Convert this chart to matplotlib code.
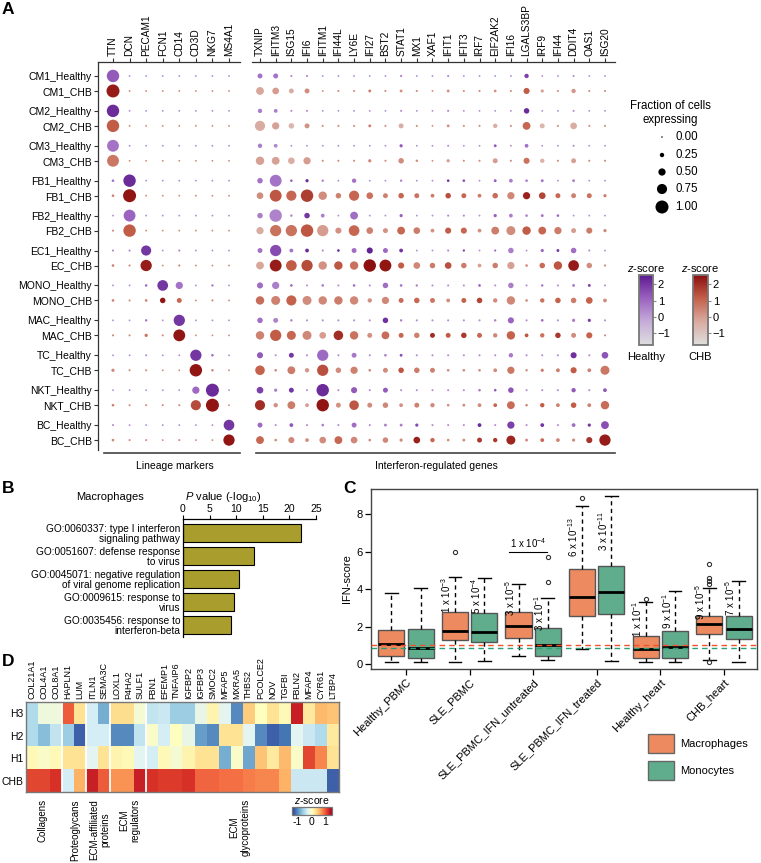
import numpy as np
import matplotlib
matplotlib.use('Agg')
import matplotlib.pyplot as plt
from matplotlib.colors import LinearSegmentedColormap, Normalize
from matplotlib.patches import Rectangle
import matplotlib.colorbar as mcolorbar

plt.rcParams['font.family'] = ['Liberation Sans', 'DejaVu Sans']
plt.rcParams['mathtext.fontset'] = 'custom'
plt.rcParams['mathtext.rm'] = 'Liberation Sans'
plt.rcParams['mathtext.it'] = 'Liberation Sans:italic'
plt.rcParams['axes.linewidth'] = 0.9

# ---------------- Panel A data ----------------
ROWS = ['CM1_Healthy', 'CM1_CHB', 'CM2_Healthy', 'CM2_CHB', 'CM3_Healthy', 'CM3_CHB',
        'FB1_Healthy', 'FB1_CHB', 'FB2_Healthy', 'FB2_CHB', 'EC1_Healthy', 'EC_CHB',
        'MONO_Healthy', 'MONO_CHB', 'MAC_Healthy', 'MAC_CHB', 'TC_Healthy', 'TC_CHB',
        'NKT_Healthy', 'NKT_CHB', 'BC_Healthy', 'BC_CHB']
LINEAGE = ['TTN', 'DCN', 'PECAM1', 'FCN1', 'CD14', 'CD3D', 'NKG7', 'MS4A1']
IFN_GENES = ['TXNIP', 'IFITM3', 'ISG15', 'IFI6', 'IFITM1', 'IFI44L', 'LY6E', 'IFI27',
             'BST2', 'STAT1', 'MX1', 'XAF1', 'IFIT1', 'IFIT3', 'IRF7', 'EIF2AK2', 'IFI16',
             'LGALS3BP', 'IRF9', 'IFI44', 'DDIT4', 'OAS1', 'ISG20']

LIN_FRAC = [
    [.95, .03, .03, .03, .03, .03, .03, .03],
    [1.0, .03, .03, .03, .03, .03, .03, .03],
    [.95, .03, .03, .03, .03, .03, .03, .03],
    [.95, .03, .03, .03, .03, .03, .03, .03],
    [.90, .03, .03, .03, .03, .03, .03, .03],
    [.90, .03, .03, .03, .03, .03, .03, .03],
    [.10, .95, .03, .03, .03, .03, .03, .03],
    [.10, 1.0, .03, .03, .03, .03, .03, .03],
    [.03, .90, .03, .03, .03, .03, .03, .03],
    [.05, .95, .03, .03, .03, .03, .03, .03],
    [.05, .05, .75, .03, .05, .03, .03, .03],
    [.10, .05, .85, .03, .05, .03, .03, .03],
    [.03, .03, .10, .80, .50, .03, .08, .03],
    [.10, .05, .10, .35, .30, .03, .05, .03],
    [.03, .03, .08, .03, .85, .03, .03, .03],
    [.05, .05, .15, .05, .90, .03, .03, .03],
    [.03, .03, .05, .03, .03, .85, .10, .03],
    [.15, .05, .05, .03, .03, .95, .08, .03],
    [.03, .03, .03, .03, .03, .50, 1.0, .03],
    [.10, .05, .05, .05, .05, .75, 1.0, .03],
    [.05, .03, .03, .03, .03, .03, .03, .80],
    [.10, .05, .05, .03, .05, .03, .03, .85],
]
LIN_Z = [
    [1.3, .3, .3, .3, .3, .3, .3, .3],
    [2.3, .3, .3, .3, .3, .3, .3, .3],
    [2.2, .3, .3, .3, .3, .3, .3, .3],
    [1.2, .3, .3, .3, .3, .3, .3, .3],
    [.8, .3, .3, .3, .3, .3, .3, .3],
    [.7, .3, .3, .3, .3, .3, .3, .3],
    [.8, 2.2, .3, .3, .3, .3, .3, .3],
    [.5, 2.4, .3, .3, .3, .3, .3, .3],
    [.3, 1.1, .3, .3, .3, .3, .3, .3],
    [.4, 1.2, .3, .3, .3, .3, .3, .3],
    [.5, .5, 2.0, .3, .6, .3, .3, .3],
    [.5, .4, 2.3, .3, .5, .3, .3, .3],
    [.3, .3, .8, 2.0, .8, .3, .6, .3],
    [.5, .3, .5, 2.4, 1.0, .3, .5, .3],
    [.3, .3, .8, .3, 2.0, .3, .3, .3],
    [.4, .3, .8, .3, 2.4, .3, .3, .3],
    [.3, .3, .3, .3, .3, 2.0, .8, .3],
    [.4, .3, .3, .3, .3, 2.4, .6, .3],
    [.3, .3, .3, .3, .3, 1.0, 2.2, .3],
    [.5, .3, .3, .3, .3, 1.5, 2.4, .3],
    [.3, .3, .3, .3, .3, .3, .3, 2.0],
    [.4, .3, .3, .3, .3, .3, .3, 2.4],
]

IFN_FRAC = [
    [.30, .30, .06, .06, .03, .03, .03, .03, .03, .06, .03, .03, .05, .03, .03, .03, .03, .25, .03, .03, .05, .03, .03],
    [.55, .45, .30, .30, .03, .05, .05, .12, .05, .12, .05, .03, .12, .05, .05, .10, .05, .40, .15, .05, .25, .05, .05],
    [.25, .20, .05, .05, .03, .03, .03, .03, .03, .05, .03, .03, .05, .03, .03, .03, .03, .35, .03, .03, .05, .03, .03],
    [.75, .50, .35, .30, .05, .05, .05, .12, .05, .30, .05, .03, .12, .05, .05, .25, .05, .55, .30, .05, .45, .05, .05],
    [.25, .20, .03, .03, .03, .03, .03, .03, .03, .15, .03, .03, .05, .03, .03, .12, .03, .20, .03, .03, .05, .03, .03],
    [.60, .55, .45, .50, .05, .05, .05, .15, .05, .35, .08, .03, .15, .05, .05, .30, .05, .40, .25, .05, .30, .05, .05],
    [.35, .90, .10, .15, .08, .03, .25, .03, .03, .08, .03, .03, .10, .10, .03, .12, .20, .10, .12, .03, .12, .03, .03],
    [.45, .90, .75, .95, .60, .35, .75, .45, .30, .35, .30, .20, .35, .30, .20, .35, .50, .50, .45, .30, .30, .30, .15],
    [.35, .95, .08, .35, .20, .03, .55, .03, .03, .15, .03, .03, .05, .05, .03, .15, .20, .10, .12, .10, .03, .03, .03],
    [.50, .85, .85, .95, .85, .40, .80, .45, .30, .55, .45, .20, .40, .40, .20, .55, .65, .60, .55, .50, .30, .40, .15],
    [.30, .85, .20, .20, .05, .10, .30, .40, .30, .20, .03, .03, .05, .08, .03, .05, .35, .03, .15, .12, .35, .05, .03],
    [.55, .90, .80, .85, .60, .60, .60, .95, .90, .40, .45, .35, .45, .35, .20, .35, .50, .10, .35, .60, .80, .35, .06],
    [.40, .50, .10, .05, .10, .05, .10, .05, .35, .10, .08, .05, .05, .05, .10, .05, .35, .05, .08, .05, .12, .12, .05],
    [.60, .65, .75, .65, .60, .60, .60, .25, .50, .30, .35, .30, .20, .30, .35, .25, .60, .10, .25, .35, .35, .45, .20],
    [.35, .30, .08, .05, .05, .05, .05, .05, .35, .08, .05, .05, .05, .05, .05, .08, .40, .05, .10, .05, .15, .15, .05],
    [.60, .85, .65, .65, .45, .70, .60, .30, .55, .30, .35, .30, .30, .35, .30, .25, .60, .20, .25, .35, .30, .40, .05],
    [.40, .05, .30, .05, .85, .05, .30, .05, .10, .12, .05, .05, .05, .05, .05, .05, .25, .05, .05, .05, .40, .05, .45],
    [.70, .10, .55, .25, .85, .35, .50, .10, .30, .35, .35, .30, .10, .10, .10, .20, .50, .08, .15, .20, .40, .20, .65],
    [.45, .15, .30, .05, .95, .05, .40, .05, .30, .05, .05, .05, .05, .05, .10, .10, .35, .05, .05, .05, .25, .05, .20],
    [.75, .25, .55, .20, .95, .30, .70, .30, .35, .20, .30, .25, .10, .12, .20, .20, .55, .10, .25, .20, .35, .20, .60],
    [.30, .05, .20, .05, .10, .05, .30, .05, .12, .12, .15, .05, .05, .05, .20, .05, .50, .05, .20, .05, .20, .15, .55],
    [.55, .10, .40, .20, .45, .55, .45, .10, .35, .15, .45, .25, .10, .12, .30, .25, .65, .12, .20, .20, .15, .40, .85],
]
IFN_Z = [
    [.8, .8, .3, .3, .3, .3, .3, .3, .3, .5, .3, .3, .5, .3, .3, .3, .3, 1.8, .3, .3, .3, .3, .3],
    [-.2, 0, -.4, .3, .3, .3, .3, .6, .3, .2, .3, .3, .2, .3, .3, .3, .3, 1.2, -.1, .3, .1, .3, .3],
    [.6, .6, .3, .3, .3, .3, .3, .3, .3, .3, .3, .3, .5, .3, .3, .3, .3, 2.2, .3, .3, .3, .3, .3],
    [-.3, -.1, -.6, .2, .3, .3, .3, .6, .3, -.4, .3, .3, .2, .3, .3, -.4, .3, 1.0, -.6, .3, -.3, .3, .3],
    [.6, .4, .3, .3, .3, .3, .3, .3, .3, 1.3, .3, .3, .3, .3, .3, 1.3, .3, .8, .3, .3, .3, .3, .3],
    [-.1, -.1, -.4, 0, .3, .3, .3, .4, .3, .3, .3, .3, 0, .3, .3, 0, .3, .8, -.5, .3, -.1, .3, .3],
    [.8, .8, 1.0, 2.2, .5, .3, .8, .3, .3, .5, .3, .3, 2.0, 1.5, .3, 1.2, .6, .6, .8, .3, .5, .3, .3],
    [.3, 1.3, 1.0, 1.7, .3, .5, 1.0, .8, .5, 1.0, .8, .6, 1.4, 1.0, .6, .9, .4, 2.2, 1.6, 1.0, .5, .8, .6],
    [.6, .5, .5, 2.0, .6, .3, .9, .3, .3, 1.2, .3, .3, .5, .5, .3, 1.2, .6, .5, .8, 1.0, .3, .3, .3],
    [-.3, .8, .8, 1.3, 0, .2, 1.0, .5, .2, 1.0, .6, .2, 1.2, 1.0, .2, .6, .3, 1.2, 1.0, .6, 0, .6, .4],
    [.8, 1.6, .8, 2.2, .5, 2.2, .9, 2.4, 1.0, 2.0, .3, .3, .5, 1.5, .3, 1.2, .6, .3, 1.0, 2.0, .9, .3, .3],
    [-.2, 2.3, 1.2, 1.5, .2, 1.3, .8, 2.5, 2.4, 1.2, .4, .6, 1.4, .6, -.1, .6, -.1, .3, .9, 1.3, 2.3, .3, .3],
    [.9, .6, 1.0, .3, .6, .3, .8, .3, .9, .8, .5, .3, .3, .3, 1.2, .3, .6, .3, .8, .3, .6, 1.8, .3],
    [.9, .5, 1.1, .3, .4, .6, .4, .2, .4, .9, 1.0, .7, .3, 1.1, 1.6, .3, .4, .3, .8, 1.1, .6, 1.1, .3],
    [.9, .5, .6, .3, .3, .3, .3, .3, 2.1, .6, .3, .3, .3, .3, .3, .6, 1.1, .3, 1.0, .3, .6, 1.8, .3],
    [.5, 1.2, 1.0, .4, 0, 2.0, .8, .2, .9, 1.0, .5, 2.0, 1.2, 1.8, 1.0, .4, 1.1, 1.3, .8, 1.8, .3, 1.1, .3],
    [1.3, .3, 2.0, .3, 1.0, .3, .7, .3, .6, 1.5, .3, .3, .3, .3, .3, .3, .7, .3, .3, .3, 2.1, .3, 1.4],
    [1.1, .3, .6, .1, 1.4, .3, .5, .3, .3, 1.3, .6, .5, .3, .3, .3, .3, .7, .3, .6, .6, 1.2, .5, .7],
    [1.8, .6, 2.0, .3, 2.2, .3, 1.3, .3, 1.3, .3, .3, .3, .3, .3, .6, 1.3, 1.4, .3, .3, .3, 1.3, .3, 1.3],
    [2.0, .2, .6, 0, 2.4, .2, 1.3, .3, .4, .2, .5, .3, .3, .3, .3, 1.0, .9, .3, 1.2, .5, 1.2, .5, .9],
    [1.0, .3, 1.3, .3, .6, .3, .9, .3, .6, .6, 1.6, .3, .3, .3, 2.2, .3, 1.8, .3, 2.0, .3, .9, 2.0, 1.5],
    [1.0, .3, .4, .2, .3, 1.0, .4, .3, .4, .3, 2.2, 1.0, .3, .3, 1.8, 1.8, 2.1, .3, 1.0, .4, .3, 1.9, 2.3],
]
SIZE_LEGEND = [0.00, 0.25, 0.50, 0.75, 1.00]
Z_TICKS = [-1, 0, 1, 2]

# ---------------- Panel B data ----------------
GO_TERMS = ['GO:0060337: type I interferon\nsignaling pathway',
            'GO:0051607: defense response\nto virus',
            'GO:0045071: negative regulation\nof viral genome replication',
            'GO:0009615: response to\nvirus',
            'GO:0035456: response to\ninterferon-beta']
GO_LOGP = [22.2, 13.4, 10.6, 9.6, 9.0]

# ---------------- Panel C data ----------------
C_GROUPS = ['Healthy_PBMC', 'SLE_PBMC', 'SLE_PBMC_IFN_untreated', 'SLE_PBMC_IFN_treated',
            'Healthy_heart', 'CHB_heart']
MAC_MED = [1.05, 1.78, 2.05, 3.60, 0.79, 2.12]
MAC_Q1 = [0.44, 1.27, 1.37, 2.58, 0.30, 1.60]
MAC_Q3 = [1.82, 2.76, 2.80, 5.08, 1.52, 2.57]
MAC_LO = [0.09, 0.09, 0.44, 0.80, 0.09, 0.21]
MAC_HI = [3.81, 4.67, 4.26, 8.45, 3.32, 4.05]
MAC_FLIERS = [[], [5.99], [], [8.86], [3.46], [5.33, 4.58, 4.44, 4.30, 0.09]]
MONO_MED = [0.87, 1.69, 1.02, 3.85, 0.93, 1.89]
MONO_Q1 = [0.30, 1.19, 0.43, 2.69, 0.30, 1.34]
MONO_Q3 = [1.85, 2.71, 1.91, 5.26, 1.78, 2.58]
MONO_LO = [0.09, 0.16, 0.20, 0.18, 0.09, 0.12]
MONO_HI = [4.08, 4.61, 3.51, 8.97, 3.90, 4.44]
MONO_FLIERS = [[], [], [5.74, 4.37], [], [], []]
PVAL_MAC = [None, '1 x 10$^{-3}$', '3 x 10$^{-5}$', '6 x 10$^{-13}$', '1 x 10$^{-1}$', '9 x 10$^{-5}$']
PVAL_MONO = [None, '5 x 10$^{-4}$', '3 x 10$^{-1}$', '3 x 10$^{-11}$', '9 x 10$^{-1}$', '7 x 10$^{-5}$']
PVAL_PAIR = '1 x 10$^{-4}$'
REF_MAC = 1.00
REF_MONO = 0.83

# ---------------- Panel D data ----------------
ECM_GENES = ['COL21A1', 'COL4A1', 'COL8A1', 'HAPLN1', 'LUM', 'ITLN1', 'SEMA3C', 'LOXL1',
             'P4HA2', 'SULF1', 'FBN1', 'EFEMP1', 'TNFAIP6', 'IGFBP2', 'IGFBP3', 'SMOC2',
             'MFAP5', 'MXRA5', 'THBS2', 'PCOLCE2', 'NOV', 'TGFBI', 'FBLN2', 'MFAP4',
             'CYR61', 'LTBP4']
ECM_ROWS = ['H3', 'H2', 'H1', 'CHB']
ECM_H3 = [-.5, -.1, -.1, 1.0, .3, -.3, -.8, .35, .35, -.05, -.4, -.35, -.6, -.6, -.15, .15,
          -.2, -1.0, .45, .05, .3, .1, 1.3, .25, .55, .5]
ECM_H2 = [-.5, -.7, -.4, -.6, -1.2, -.3, -.3, -1.0, -1.0, -.4, 0, -.3, .05, -.15, -.9, -1.0,
          .3, .3, -.2, -1.0, -1.2, -1.1, -.2, -.35, -.5, .25]
ECM_H1 = [.1, 0, .1, .3, .3, -.2, .3, .15, .1, -.2, -.3, .1, -.05, .15, .3, .3,
          -.8, 0, -.85, .5, .25, .55, 0, 1.1, .8, .3]
ECM_CHB = [1.1, 1.1, 1.2, -.3, .6, 1.3, 1.0, .75, .75, 1.3, 1.2, 1.15, 1.15, 1.2, .95, .95,
           .9, .9, .85, .8, .8, .6, -.35, -.35, -.35, -1.2]
ECM_CATEGORIES = ['Collagens', 'Proteoglycans', 'ECM-affiliated\nproteins',
                  'ECM\nregulators', 'ECM\nglycoproteins']
ECM_BREAKS = [3, 5, 7, 10]

# ---------------- figure ----------------
W, H = 761, 863
fig = plt.figure(figsize=(W / 100, H / 100), dpi=100)


def pax(x0, y0, x1, y1, **kw):
    return fig.add_axes([x0 / W, 1 - y1 / H, (x1 - x0) / W, (y1 - y0) / H], **kw)


def dot_s(f):
    d = 1.5 + 11.5 * np.asarray(f, dtype=float)
    return (d * 0.72) ** 2


cmap_h = LinearSegmentedColormap.from_list('healthy', ['#dedede', '#c6acd9', '#9a62c0', '#5c1a8e'])
cmap_c = LinearSegmentedColormap.from_list('chb', ['#dedede', '#d9aba0', '#c4604a', '#8b0d0d'])
znorm = Normalize(-1.7, 2.55)

row_y = np.array([(i // 2) * 2.327 + (i % 2) for i in range(len(ROWS))])
GREY = '#333333'


def dot_panel(ax, frac, zs):
    frac = np.array(frac)
    zs = np.array(zs)
    for i in range(len(ROWS)):
        cm = cmap_h if i % 2 == 0 else cmap_c
        ax.scatter(np.arange(frac.shape[1]), np.full(frac.shape[1], row_y[i]),
                   s=dot_s(frac[i]), c=cm(znorm(zs[i])), linewidths=0, zorder=3)
    ax.set_ylim(24.93, -0.93)
    ax.xaxis.tick_top()
    ax.tick_params(axis='x', length=3, width=0.8, labelsize=7.3, pad=1.5, rotation=90, colors=GREY,
                   labelcolor='black')
    for s in ['right', 'bottom']:
        ax.spines[s].set_visible(False)
    for s in ax.spines.values():
        s.set_color(GREY)


axL = pax(98, 62, 240, 450)
dot_panel(axL, LIN_FRAC, LIN_Z)
axL.set_xlim(-0.905, 7.664)
axL.set_xticks(range(len(LINEAGE)))
axL.set_xticklabels(LINEAGE)
axL.set_yticks(row_y)
axL.set_yticklabels(ROWS, fontsize=7.5)
axL.tick_params(axis='y', length=3, width=0.8, pad=1.5, colors=GREY, labelcolor='black')

axR = pax(252, 62, 615, 450)
dot_panel(axR, IFN_FRAC, IFN_Z)
axR.set_xlim(-0.51, 22.64)
axR.set_xticks(range(len(IFN_GENES)))
axR.set_xticklabels(IFN_GENES)
axR.spines['left'].set_visible(False)
axR.set_yticks([])

# colorbars (panel A)
for (x0, x1, cm, name) in [(639, 653, cmap_h, 'Healthy'), (693, 708, cmap_c, 'CHB')]:
    cax = pax(x0, 275, x1, 345)
    cb = mcolorbar.ColorbarBase(cax, cmap=cm, norm=znorm, ticks=Z_TICKS)
    cb.set_ticklabels(['\u22121', '0', '1', '2'])
    cax.tick_params(labelsize=8, length=2.5, width=0.8, pad=1, colors='#888888', labelcolor='black')
    cb.outline.set_edgecolor('#777777')
    cb.outline.set_linewidth(1.3)

# ---------------- Panel B ----------------
axB = pax(183, 519, 316, 637)
axB.barh(range(len(GO_LOGP)), GO_LOGP, height=0.78, color='#a99d2d', edgecolor='black', linewidth=0.8)
axB.set_xlim(0, 25)
axB.set_ylim(4.52, -0.61)
axB.xaxis.tick_top()
axB.set_xticks([0, 5, 10, 15, 20, 25])
axB.tick_params(axis='x', length=3, width=0.8, labelsize=7.5, pad=0.5)
axB.set_yticks(range(len(GO_TERMS)))
axB.set_yticklabels(GO_TERMS, fontsize=7.3, multialignment='right', linespacing=1.0)
axB.tick_params(axis='y', length=0, pad=2)
for s in ['right', 'bottom']:
    axB.spines[s].set_visible(False)

# ---------------- Panel C ----------------
axC = pax(371, 489, 757, 669)
MAC_COL, MONO_COL = '#ee8a5f', '#5fad8d'


def stats(med, q1, q3, lo, hi, fl):
    return [dict(med=med[i], q1=q1[i], q3=q3[i], whislo=lo[i], whishi=hi[i], fliers=fl[i])
            for i in range(len(med))]


common = dict(widths=0.41, patch_artist=True, manage_ticks=False, capwidths=0.2,
              whiskerprops=dict(color='black', linestyle=(0, (3, 2.5)), linewidth=1.0),
              capprops=dict(color='black', linewidth=1.0),
              medianprops=dict(color='black', linewidth=2.0),
              flierprops=dict(marker='o', markersize=3, markerfacecolor='none',
                              markeredgecolor='#333333', markeredgewidth=0.8))
gx = np.arange(len(C_GROUPS))
bm = axC.bxp(stats(MAC_MED, MAC_Q1, MAC_Q3, MAC_LO, MAC_HI, MAC_FLIERS), positions=gx - 0.23,
             boxprops=dict(facecolor=MAC_COL, edgecolor='#555555', linewidth=1.0), **common)
bn = axC.bxp(stats(MONO_MED, MONO_Q1, MONO_Q3, MONO_LO, MONO_HI, MONO_FLIERS), positions=gx + 0.23,
             boxprops=dict(facecolor=MONO_COL, edgecolor='#555555', linewidth=1.0), **common)
axC.axhline(REF_MAC, color='#f0522c', linestyle=(0, (4, 3)), linewidth=1.0, zorder=5)
axC.axhline(REF_MONO, color='#2a9f78', linestyle=(0, (4, 3)), linewidth=1.0, zorder=5)
for i in range(len(C_GROUPS)):
    if PVAL_MAC[i]:
        axC.text(i - 0.37, (MAC_Q3[i] + MAC_HI[i]) / 2, PVAL_MAC[i], rotation=90, fontsize=7,
                 ha='center', va='center')
    if PVAL_MONO[i]:
        axC.text(i + 0.10, (MONO_Q3[i] + MONO_HI[i]) / 2, PVAL_MONO[i], rotation=90, fontsize=7,
                 ha='center', va='center')
axC.plot([1.62, 2.22], [5.99, 5.99], color='black', linewidth=0.8)
axC.text(1.92, 6.1, PVAL_PAIR, fontsize=7, ha='center', va='bottom')
axC.set_xlim(-0.55, 5.52)
axC.set_ylim(-0.27, 9.36)
axC.set_yticks([0, 2, 4, 6, 8])
axC.set_xticks(gx)
axC.set_xticklabels(C_GROUPS, rotation=45, ha='right', rotation_mode='anchor', fontsize=8)
axC.tick_params(axis='both', length=4, width=0.9, labelsize=8, pad=2)
axC.set_ylabel('IFN-score', fontsize=8, labelpad=3)
for s in axC.spines.values():
    s.set_color('#444444')
    s.set_linewidth(1.0)

# ---------------- Panel D ----------------
axD = pax(26, 702, 339, 792)
ecm = np.array([ECM_H3, ECM_H2, ECM_H1, ECM_CHB])
dnorm = Normalize(-1.4, 1.5)
axD.imshow(ecm, aspect='auto', cmap='RdYlBu_r', norm=dnorm, interpolation='nearest')
for b in ECM_BREAKS:
    axD.axvline(b - 0.5, color='white', linewidth=1.3)
axD.xaxis.tick_top()
axD.set_xticks(range(len(ECM_GENES)))
axD.set_xticklabels(ECM_GENES, rotation=90, fontsize=6.5)
axD.set_yticks(range(len(ECM_ROWS)))
axD.set_yticklabels(ECM_ROWS, fontsize=7.5)
axD.tick_params(length=0, pad=2)
for s in axD.spines.values():
    s.set_color('#777777')
    s.set_linewidth(1.0)

caxD = pax(292, 807, 332, 815)
cbD = mcolorbar.ColorbarBase(caxD, cmap=plt.get_cmap('RdYlBu_r'), norm=dnorm,
                             orientation='horizontal', ticks=[-1, 0, 1])
cbD.set_ticklabels(['-1', '0', '1'])
caxD.tick_params(length=0, labelsize=7.5, pad=1.5)
cbD.outline.set_edgecolor('#777777')

# ---------------- overlay texts ----------------
ov = fig.add_axes([0, 0, 1, 1], zorder=10)
ov.set_xlim(0, W)
ov.set_ylim(H, 0)
ov.axis('off')
ov.patch.set_alpha(0)

for lab, (x, y) in zip('ABCD', [(8, 10), (8, 488), (350, 488), (8, 661)]):
    ov.text(x, y, lab, fontsize=12.5, fontweight='bold', ha='center', va='center')

ov.plot([104, 240], [453, 453], color='#444444', linewidth=1.2)
ov.plot([256, 615], [453, 453], color='#444444', linewidth=1.2)
ov.text(175, 466, 'Lineage markers', fontsize=7.5, ha='center', va='center')
ov.text(436, 466, 'Interferon-regulated genes', fontsize=7.5, ha='center', va='center')

ov.text(670, 113, 'Fraction of cells\nexpressing', fontsize=8.3, ha='center', va='center',
        linespacing=1.15)
leg_y = [137, 155, 172, 189, 207]
ov.scatter([662] * len(SIZE_LEGEND), leg_y, s=dot_s(SIZE_LEGEND), color='black', linewidths=0)
for v, y in zip(SIZE_LEGEND, leg_y):
    ov.text(675, y, f'{v:.2f}', fontsize=8.3, ha='left', va='center')

for x, name in [(646, 'Healthy'), (700, 'CHB')]:
    ov.text(x, 268, '$z$-score', fontsize=8, ha='center', va='center')
    ov.text(x, 357, name, fontsize=8, ha='center', va='center')

ov.text(110, 497, 'Macrophages', fontsize=8, ha='center', va='center')
ov.text(223, 497, '$P$ value (-log$_{10}$)', fontsize=8, ha='center', va='center')

ov.add_patch(Rectangle((648, 734), 26, 19, facecolor=MAC_COL, edgecolor='#666666', linewidth=1.0))
ov.add_patch(Rectangle((648, 761), 26, 19, facecolor=MONO_COL, edgecolor='#666666', linewidth=1.0))
ov.text(680, 744, 'Macrophages', fontsize=8, ha='left', va='center')
ov.text(680, 771, 'Monocytes', fontsize=8, ha='left', va='center')

for x, t in zip([43, 75, 100, 130, 240], ECM_CATEGORIES):
    ov.text(x, 799, t, rotation=90, fontsize=7, ha='center', va='top', multialignment='center',
            linespacing=1.1)
ov.text(312, 800, '$z$-score', fontsize=7.5, ha='center', va='center')

fig.savefig('out.png', dpi=100)
